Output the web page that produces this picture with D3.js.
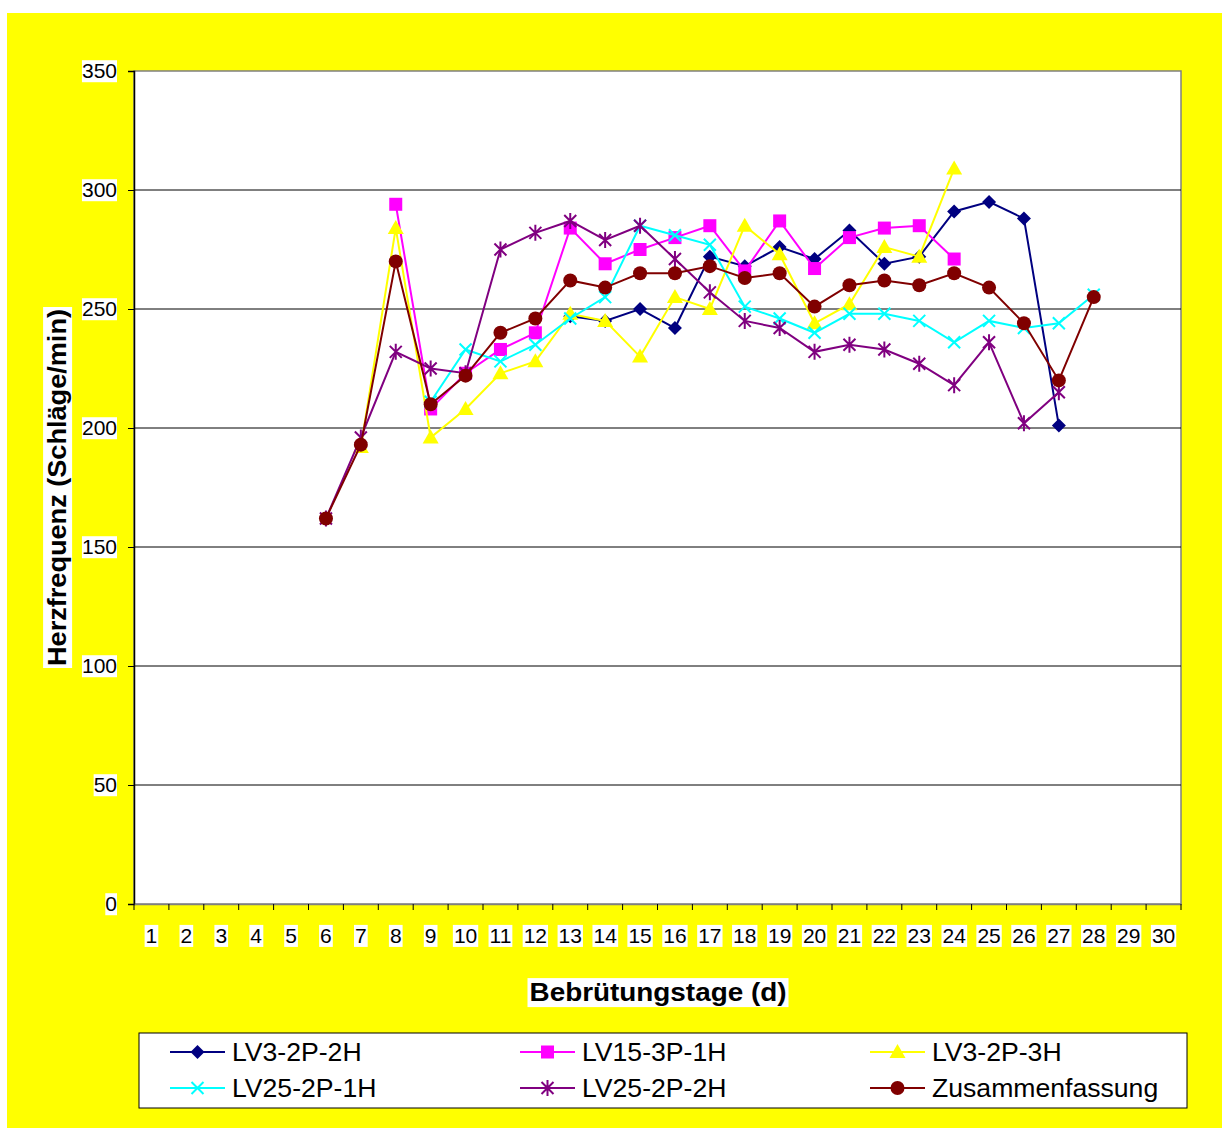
<!DOCTYPE html>
<html><head><meta charset="utf-8">
<script src="https://cdn.jsdelivr.net/npm/d3@7"></script>
<style>
html,body{margin:0;padding:0;background:#fff;}
svg{display:block;font-family:"Liberation Sans",Arial,sans-serif;}
</style></head>
<body>
<svg id="chart" width="1227" height="1130"></svg>
<script>
const days = d3.range(1, 31);
const yTicks = [0, 50, 100, 150, 200, 250, 300, 350];

// values: [day, value]
const lv3_2p_2h = [[13,247],[14,245],[15,250],[16,242],[17,272],[18,268],[19,276],[20,271],[21,283],[22,269],[23,272],[24,291],[25,295],[26,288],[27,201]];
const lv15_3p_1h = [[8,294],[9,208],[10,223],[11,233],[12,240],[13,284],[14,269],[15,275],[16,280],[17,285],[18,266],[19,287],[20,267],[21,280],[22,284],[23,285],[24,271]];
const lv3_2p_3h = [[7,192],[8,284],[9,196],[10,208],[11,223],[12,228],[13,248],[14,245],[15,230],[16,255],[17,250],[18,285],[19,273],[20,244],[21,252],[22,276],[23,272],[24,309]];
const lv25_2p_1h = [[9,211],[10,233],[11,228],[12,235],[13,246],[14,255],[15,285],[16,281],[17,277],[18,251],[19,246],[20,240],[21,248],[22,248],[23,245],[24,236],[25,245],[26,242],[27,244],[28,256]];
const lv25_2p_2h = [[6,162],[7,196],[8,232],[9,225],[10,223],[11,275],[12,282],[13,287],[14,279],[15,285],[16,271],[17,257],[18,245],[19,242],[20,232],[21,235],[22,233],[23,227],[24,218],[25,236],[26,202],[27,215]];
const zusammen = [[6,162],[7,193],[8,270],[9,210],[10,222],[11,240],[12,246],[13,262],[14,259],[15,265],[16,265],[17,268],[18,263],[19,265],[20,251],[21,260],[22,262],[23,260],[24,265],[25,259],[26,244],[27,220],[28,255]];

const seriesNames = ["LV3-2P-2H","LV15-3P-1H","LV3-2P-3H","LV25-2P-1H","LV25-2P-2H","Zusammenfassung"];
const seriesData = [lv3_2p_2h, lv15_3p_1h, lv3_2p_3h, lv25_2p_1h, lv25_2p_2h, zusammen];
const seriesColors = ["#000080","#FF00FF","#FFFF00","#00FFFF","#800080","#800000"];
const seriesMarkers = ["diamond","square","triangle","x","star","circle"];

const svg = d3.select("#chart");
svg.append("rect").attr("x",7).attr("y",13).attr("width",1215).attr("height",1115).attr("fill","#FFFF00");

const L = 134, R = 1181, T = 71, B = 904;
const x = d3.scaleBand().domain(days).range([L, R]).padding(0);
const y = d3.scaleLinear().domain([0, 350]).range([B, T]);

svg.append("rect").attr("x",L).attr("y",T).attr("width",R-L).attr("height",B-T).attr("fill","#fff").attr("stroke","#808080").attr("stroke-width",1.5);

svg.append("g").selectAll("line").data(yTicks.filter(v=>v>0 && v<350)).join("line")
  .attr("x1",L).attr("x2",R).attr("y1",d=>y(d)).attr("y2",d=>y(d))
  .attr("stroke","#000").attr("stroke-width",1);

function whiteBg(sel, padX=0){
  sel.each(function(){
    const b = this.getBBox();
    d3.select(this.parentNode).insert("rect", () => this)
      .attr("x",b.x-padX).attr("y",b.y+1).attr("width",b.width+2*padX).attr("height",b.height-1).attr("fill","#fff");
  });
}

const yAxis = svg.append("g").attr("transform",`translate(${L},0)`)
  .call(d3.axisLeft(y).tickValues(yTicks).tickSize(6).tickPadding(11));
yAxis.select(".domain").attr("stroke","#000").attr("stroke-width",1.5);
yAxis.selectAll(".tick line").attr("stroke","#000");
yAxis.selectAll("text").attr("font-size",21).attr("fill","#000").attr("font-family","Liberation Sans, Arial, sans-serif");
whiteBg(yAxis.selectAll(".tick text"));

const xAxis = svg.append("g").attr("transform",`translate(0,${B})`)
  .call(d3.axisBottom(x).tickValues(days).tickSize(0).tickPadding(24));
xAxis.select(".domain").attr("stroke","#808080").attr("stroke-width",1.5);
xAxis.selectAll("text").attr("font-size",21).attr("fill","#000").attr("font-family","Liberation Sans, Arial, sans-serif");
whiteBg(xAxis.selectAll(".tick text"), 1);
const bounds = days.map(d=>x(d)).concat([R]);
svg.append("g").selectAll("line").data(bounds).join("line")
  .attr("x1",d=>d).attr("x2",d=>d).attr("y1",B).attr("y2",B+6).attr("stroke","#000");

const yt = svg.append("g").attr("transform",`translate(57,${(T+B)/2}) rotate(-90)`);
yt.append("text").attr("text-anchor","middle").attr("dy","0.35em").attr("font-size",26).attr("font-weight","bold")
  .attr("textLength",357).attr("lengthAdjust","spacingAndGlyphs").text("Herzfrequenz (Schläge/min)");
whiteBg(yt.selectAll("text"), 2);
const xt = svg.append("g").attr("transform",`translate(658,992)`);
xt.append("text").attr("text-anchor","middle").attr("dy","0.35em").attr("font-size",26).attr("font-weight","bold")
  .attr("textLength",257).attr("lengthAdjust","spacingAndGlyphs").text("Bebrütungstage (d)");
whiteBg(xt.selectAll("text"), 2);

function drawMarker(g, type, color){
  switch(type){
    case "diamond": g.append("path").attr("d","M0,-7L7,0L0,7L-7,0Z").attr("fill",color); break;
    case "square": g.append("rect").attr("x",-6.5).attr("y",-6.5).attr("width",13).attr("height",13).attr("fill",color); break;
    case "triangle": g.append("path").attr("d","M0,-8L8,6L-8,6Z").attr("fill",color); break;
    case "x": g.append("path").attr("d","M-6,-6L6,6M-6,6L6,-6").attr("stroke",color).attr("stroke-width",2); break;
    case "star": g.append("path").attr("d","M-6,-6L6,6M-6,6L6,-6M0,-8L0,8").attr("stroke",color).attr("stroke-width",2); break;
    case "circle": g.append("circle").attr("r",7).attr("fill",color); break;
  }
}

const cx = d => x(d) + x.bandwidth()/2;
const line = d3.line().x(d=>cx(d[0])).y(d=>y(d[1]));
const plotG = svg.append("g");
seriesData.forEach((data,i)=>{
  const g = plotG.append("g");
  g.append("path").datum(data).attr("d",line).attr("fill","none").attr("stroke",seriesColors[i]).attr("stroke-width",2);
  data.forEach(d=>{
    const m = g.append("g").attr("transform",`translate(${cx(d[0])},${y(d[1])})`);
    drawMarker(m, seriesMarkers[i], seriesColors[i]);
  });
});

const lg = svg.append("g");
lg.append("rect").attr("x",139).attr("y",1033).attr("width",1048).attr("height",75).attr("fill","#fff").attr("stroke","#000").attr("stroke-width",1);
const colX = [170, 520, 870];
const rowY = [1052, 1088];
seriesNames.forEach((name,i)=>{
  const gx = colX[i%3], gy = rowY[Math.floor(i/3)];
  const g = lg.append("g").attr("transform",`translate(${gx},${gy})`);
  g.append("line").attr("x1",0).attr("x2",55).attr("y1",0).attr("y2",0).attr("stroke",seriesColors[i]).attr("stroke-width",2);
  const m = g.append("g").attr("transform","translate(27.5,0)");
  drawMarker(m, seriesMarkers[i], seriesColors[i]);
  const t = g.append("text").attr("x",62).attr("dy","0.35em").attr("font-size",25).attr("fill","#000").text(name);
  const len = t.node().getComputedTextLength();
  t.attr("textLength", len*1.064).attr("lengthAdjust","spacingAndGlyphs");
});
</script>
</body></html>
